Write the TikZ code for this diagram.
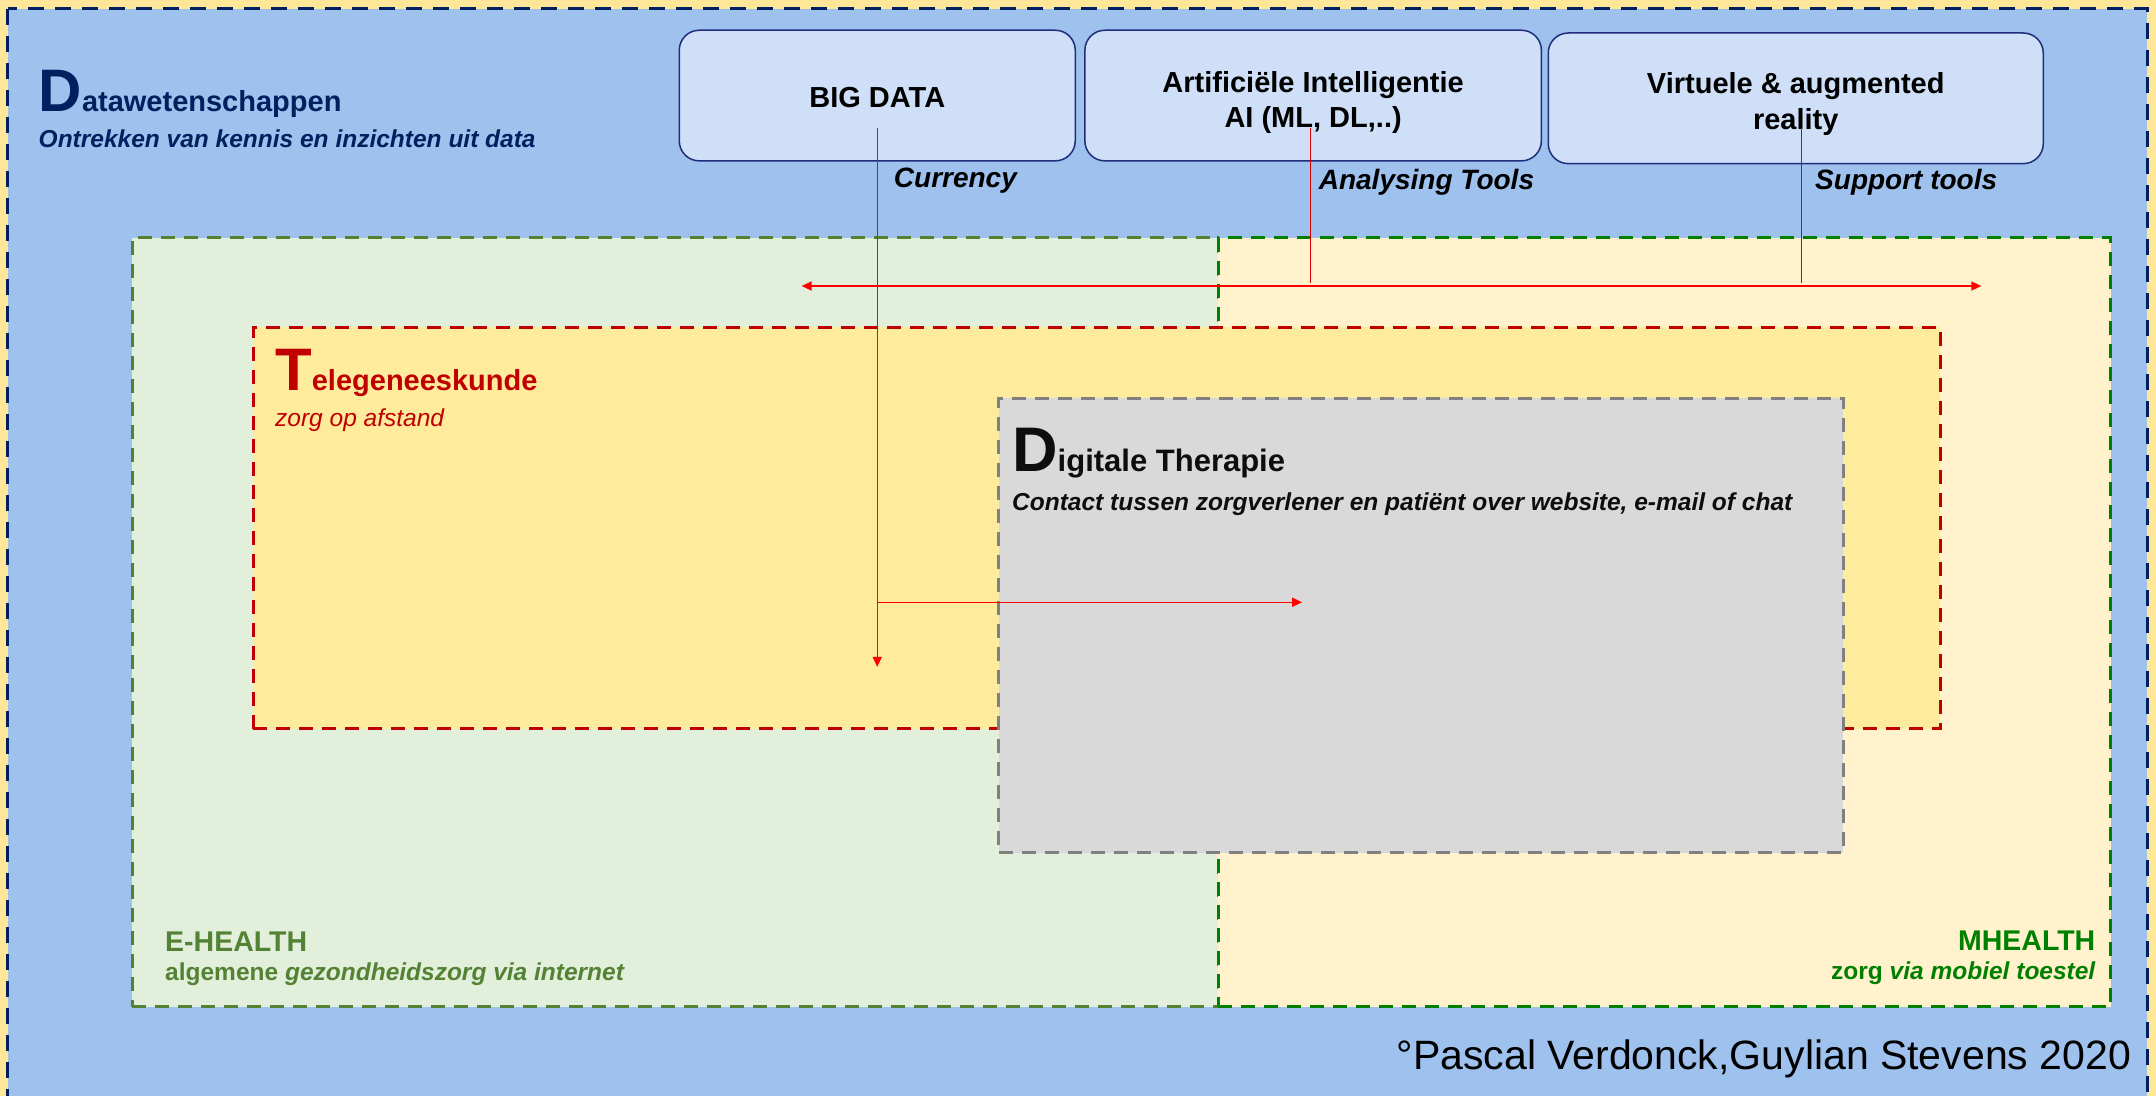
\documentclass[tikz,border=0pt]{standalone}
\usepackage{fontspec}
\setmainfont{Liberation Sans}
\usetikzlibrary{arrows.meta,fit,calc}
\definecolor{bgyellow}{RGB}{255,230,153}
\definecolor{bgblue}{RGB}{158,193,238}
\definecolor{navy}{RGB}{0,32,96}
\definecolor{boxblue}{RGB}{206,223,247}
\definecolor{boxline}{RGB}{31,45,122}
\definecolor{ehfill}{RGB}{226,239,218}
\definecolor{ehline}{RGB}{84,130,53}
\definecolor{mhfill}{RGB}{255,242,204}
\definecolor{mhline}{RGB}{0,128,0}
\definecolor{telefill}{RGB}{255,235,156}
\definecolor{teleline}{RGB}{192,0,0}
\definecolor{dtfill}{RGB}{217,217,217}
\definecolor{dtline}{RGB}{128,128,128}
\definecolor{dttext}{RGB}{13,13,13}
\newcommand{\myfs}[1]{\fontsize{#1}{#1}\selectfont}
\begin{document}
\begin{tikzpicture}[x=1.375pt,y=-1.375pt,
  area/.style={line width=3pt, dash pattern=on 14pt off 9pt, inner sep=0pt},
  topbox/.style={draw=boxline, fill=boxblue, line width=1.5pt, rounded corners=20pt, inner sep=0pt},
  lbl/.style={inner sep=0pt, anchor=base west},
  lblr/.style={inner sep=0pt, anchor=base east},
  boxtxt/.style={inner sep=0pt, anchor=base, font=\bfseries\myfs{29}, text=black},
  redline/.style={draw=red, line width=1.5pt, -{Triangle[length=10pt,width=9pt]}},
  thinred/.style={draw=red!85!black, line width=1pt}
]
\clip (0,0) rectangle (1568,797);
\fill[bgyellow] (0,0) rectangle (1568,797);
\draw[line width=3pt, dash pattern=on 16pt off 11pt, draw=navy, fill=bgblue] (5.5,6.5) rectangle (1561.5,830);

% health areas
\node[fit={(96,173) (886,732)}, area, draw=ehline, fill=ehfill] (ehealth) {};
\node[fit={(886,173) (1535,732)}, area, draw=mhline, fill=mhfill] (mhealth) {};
\node[fit={(184,238) (1411,530)}, area, draw=teleline, fill=telefill] (tele) {};
\node[fit={(726.5,289.5) (1340.5,620)}, area, draw=dtline, fill=dtfill] (digi) {};

% top boxes
\node[fit={(494,22) (782,117)}, topbox] (bigdata) {};
\node[fit={(789,22) (1121,117)}, topbox] (ai) {};
\node[fit={(1126,24) (1486,119)}, topbox] (vr) {};
\node[boxtxt] (bigdatatxt) at (638,78) {BIG DATA};
\node[boxtxt] (aitxt1) at (955,67) {Artifici\"ele Intelligentie};
\node[boxtxt] (aitxt2) at (955,93) {AI (ML, DL,..)};
\node[boxtxt] (vrtxt1) at (1306,68) {Virtuele \& augmented};
\node[boxtxt] (vrtxt2) at (1306,94) {reality};

% tool labels
\node[lbl, font=\bfseries\itshape\myfs{28}] (currency) at (650,136) {Currency};
\node[lbl, font=\bfseries\itshape\myfs{28}] (analysing) at (959,138) {Analysing Tools};
\node[lbl, font=\bfseries\itshape\myfs{28}] (support) at (1320,138) {Support tools};

% Datawetenschappen
\node[lbl, text=navy, font=\bfseries] (dw) at (28,81) {{\myfs{60}D}{\myfs{29}atawetenschappen}};
\node[lbl, text=navy, font=\bfseries\itshape\myfs{24.5}] (dwsub) at (28,107) {Ontrekken van kennis en inzichten uit data};

% Telegeneeskunde
\node[lbl, text=teleline, font=\bfseries] (tt) at (200,284) {{\myfs{60}T}{\myfs{29}elegeneeskunde}};
\node[lbl, text=teleline, font=\itshape\myfs{24.5}] (ttsub) at (200,310) {zorg op afstand};

% Digitale therapie
\node[lbl, text=dttext, font=\bfseries] (dt) at (736,343) {{\myfs{63}D}{\myfs{31}igitale Therapie}};
\node[lbl, text=dttext, font=\bfseries\itshape\myfs{24.5}] (dtsub) at (736,371) {Contact tussen zorgverlener en pati\"ent over website, e-mail of chat};

% E-health / M-health
\node[lbl, text=ehline, font=\bfseries\myfs{28.5}] (eh) at (120,692) {E-HEALTH};
\node[lbl, text=ehline, font=\bfseries\myfs{24.5}] (ehsub) at (120,713) {algemene {\itshape gezondheidszorg via internet}};
\node[lblr, text=mhline, font=\bfseries\myfs{28.5}] (mh) at (1524,691) {MHEALTH};
\node[lblr, text=mhline, font=\bfseries\myfs{24.5}] (mhsub) at (1524,712) {zorg {\itshape via mobiel toestel}};

% footer
\node[lblr, text=black, font=\myfs{41}] (footer) at (1550,778) {\textdegree Pascal Verdonck,Guylian Stevens 2020};

% connectors
\coordinate (bdstart) at (638,93);
\coordinate (bdend) at (638,485);
\coordinate (bdbranch) at (638,438);
\coordinate (dtarrow) at (947,438);
\coordinate (aistart) at (953,93);
\coordinate (aiend) at (953,206);
\coordinate (vrstart) at (1310,93);
\coordinate (vrend) at (1310,206);
\coordinate (harrL) at (583,208);
\coordinate (harrR) at (1441,208);
\draw[redline] (bdstart) -- (bdend);
\draw[redline] (bdbranch) -- (dtarrow);
\draw[thinred] (aistart) -- (aiend);
\draw[thinred] (vrstart) -- (vrend);
\draw[redline, {Triangle[length=10pt,width=9pt]}-{Triangle[length=10pt,width=9pt]}] (harrL) -- (harrR);
\end{tikzpicture}
\end{document}
